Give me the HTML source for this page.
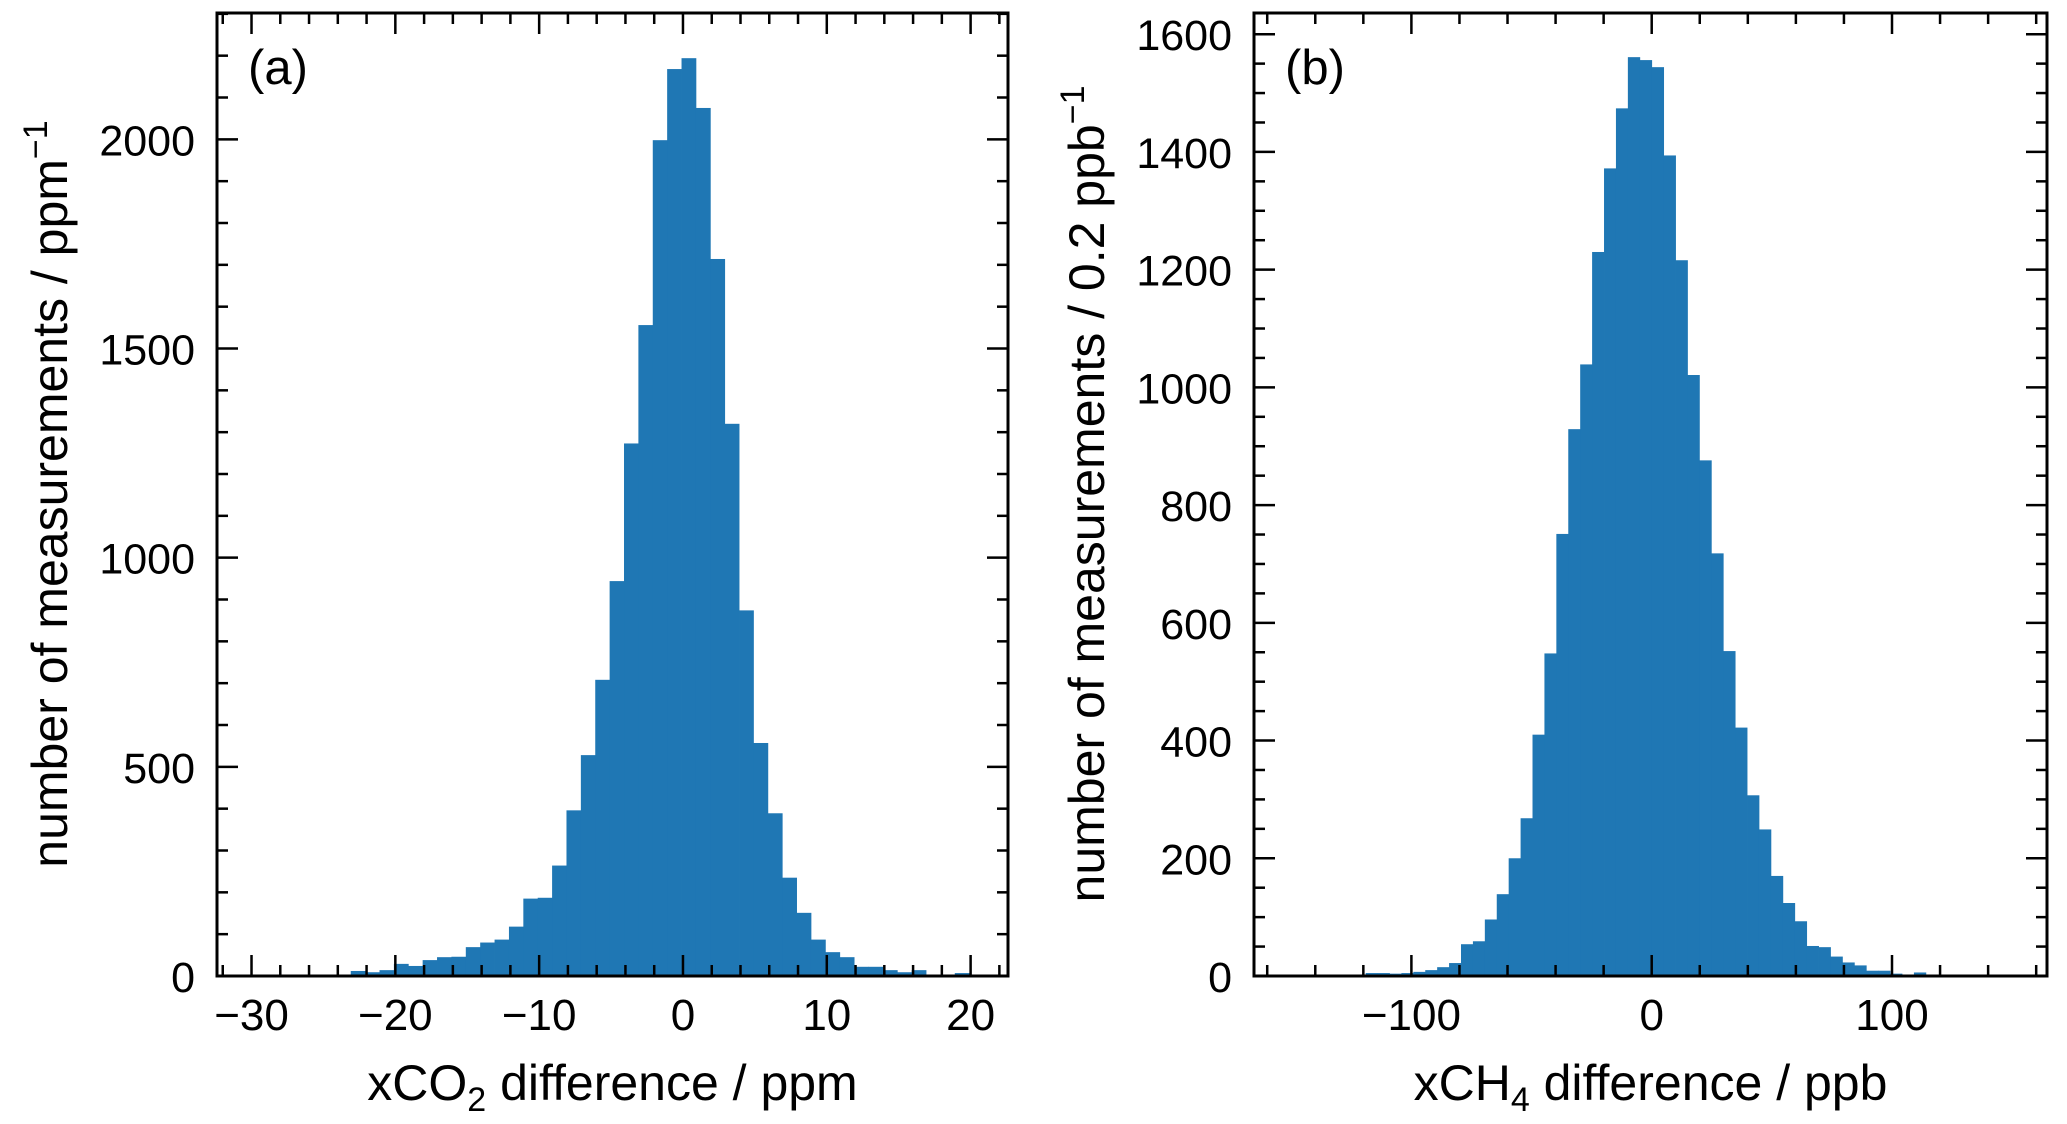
<!DOCTYPE html>
<html><head><meta charset="utf-8">
<style>
html,body{margin:0;padding:0;background:#fff;}
svg{display:block;font-family:"Liberation Sans",sans-serif;}
</style></head>
<body>
<svg id="fig" width="2067" height="1124" viewBox="0 0 2067 1124" xmlns="http://www.w3.org/2000/svg"></svg>
<script>
// Panel (a) data: xCO2 difference histogram, 1 ppm bins
const co2BinStart = -23.1;
const co2BinWidth = 1.0;
const co2Counts = [12,9,14,29,24,38,45,46,69,80,87,118,185,187,264,396,528,708,944,1273,1556,1998,2168,2194,2075,1714,1320,874,557,389,235,151,87,57,45,22,22,14,9,14,2,2,7];
const co2XTicks = [-30,-20,-10,0,10,20];
const co2YTicks = [0,500,1000,1500,2000];

// Panel (b) data: xCH4 difference histogram
const ch4BinStart = -124;
const ch4BinWidth = 4.96;
const ch4Counts = [2,5,5,4,5,7,10,15,22,54,59,96,139,200,268,410,548,751,929,1039,1230,1372,1474,1561,1556,1544,1394,1216,1021,876,718,552,422,307,249,170,124,93,51,49,33,23,18,9,9,4,2,6,2,2];
const ch4XTicks = [-100,0,100];
const ch4YTicks = [0,200,400,600,800,1000,1200,1400,1600];

const NS = "http://www.w3.org/2000/svg";
const svg = document.getElementById('fig');
function mk(tag, attrs, parent){
  const e = document.createElementNS(NS, tag);
  for (const k in attrs) e.setAttribute(k, attrs[k]);
  (parent||svg).appendChild(e);
  return e;
}

function panel(cfg){
  const g = mk('g', {});
  
  
  const L=cfg.left, R=cfg.right, T=cfg.top, B=cfg.bottom;
  const xs = v => L + (v - cfg.xmin) / (cfg.xmax - cfg.xmin) * (R - L);
  const ys = v => B - (v - cfg.ymin) / (cfg.ymax - cfg.ymin) * (B - T);
  const bars = mk('g', {}, g);
  
  
  cfg.counts.forEach((c, i) => {
    const x0 = xs(cfg.binStart + i * cfg.binWidth);
    const x1 = xs(cfg.binStart + (i + 1) * cfg.binWidth);
    const r = mk('rect', {x: x0, y: ys(c), width: Math.max(0, x1 - x0 + 0.4), height: Math.max(0, B - ys(c)), fill: '#1f77b4'}, bars);
    
    
  });
  const tk = mk('g', {stroke: '#000', 'stroke-width': 2.5}, g);
  for (let v = cfg.xmin - (cfg.xmin % cfg.xminor); v <= cfg.xmax + 1e-9; v += cfg.xminor) {
    if (v < cfg.xmin - 1e-9) continue;
    const major = Math.abs(Math.round(v / cfg.xmajor) * cfg.xmajor - v) < 1e-6;
    const len = major ? 21 : 11;
    const x = xs(v);
    mk('line', {x1: x, y1: B, x2: x, y2: B - len}, tk);
    mk('line', {x1: x, y1: T, x2: x, y2: T + len}, tk);
  }
  for (let v = cfg.ymin; v <= cfg.ymax + 1e-9; v += cfg.yminor) {
    const major = Math.abs(Math.round(v / cfg.ymajor) * cfg.ymajor - v) < 1e-6;
    const len = major ? 21 : 11;
    const y = ys(v);
    mk('line', {x1: L, y1: y, x2: L + len, y2: y}, tk);
    mk('line', {x1: R, y1: y, x2: R - len, y2: y}, tk);
  }
  const fr = mk('rect', {x: L, y: T, width: R - L, height: B - T, fill: 'none', stroke: '#000', 'stroke-width': 3}, g);
  
  
  cfg.xticks.forEach(v => {
    const t = mk('text', {x: xs(v), y: 1030, 'text-anchor': 'middle', 'font-size': 44}, g);
    t.textContent = v < 0 ? '\u2212' + Math.abs(v) : String(v);
    
    
  });
  cfg.yticks.forEach(v => {
    const t = mk('text', {x: L - 22, y: ys(v) + 16, 'text-anchor': 'end', 'font-size': 43}, g);
    t.textContent = String(v);
    
    
  });
  const pl = mk('text', {x: L + 31, y: 84, 'font-size': 49}, g);
  pl.textContent = cfg.label;
  
  
  const xt = mk('text', {x: (L + R) / 2, y: 1100, 'text-anchor': 'middle', 'font-size': 50}, g);
  xt.innerHTML = cfg.xtitle;
  
  
  const yt = mk('text', {x: 0, y: 0, 'text-anchor': 'middle', 'font-size': 50, transform: 'translate(' + cfg.ytitleX + ',494) rotate(-90)'}, g);
  yt.innerHTML = cfg.ytitle;
  
  
}

panel({name: 'panel-a-co2', left: 217, right: 1008, top: 13, bottom: 976,
  xmin: -32.4, xmax: 22.6, ymin: 0, ymax: 2302,
  xminor: 2, xmajor: 10, yminor: 100, ymajor: 500,
  binStart: co2BinStart, binWidth: co2BinWidth, counts: co2Counts,
  xticks: co2XTicks, yticks: co2YTicks, label: '(a)',
  xtitle: 'xCO<tspan font-size="34" dy="11">2</tspan><tspan dy="-11"> difference / ppm</tspan>',
  ytitle: 'number of measurements / ppm<tspan font-size="34" dy="-20">\u22121</tspan>',
  ytitleX: 67});

panel({name: 'panel-b-ch4', left: 1254, right: 2047, top: 13, bottom: 976,
  xmin: -165.5, xmax: 164.5, ymin: 0, ymax: 1636,
  xminor: 20, xmajor: 100, yminor: 50, ymajor: 200,
  binStart: ch4BinStart, binWidth: ch4BinWidth, counts: ch4Counts,
  xticks: ch4XTicks, yticks: ch4YTicks, label: '(b)',
  xtitle: 'xCH<tspan font-size="34" dy="11">4</tspan><tspan dy="-11"> difference / ppb</tspan>',
  ytitle: 'number of measurements / 0.2 ppb<tspan font-size="34" dy="-20">\u22121</tspan>',
  ytitleX: 1104});
</script>
</body></html>
